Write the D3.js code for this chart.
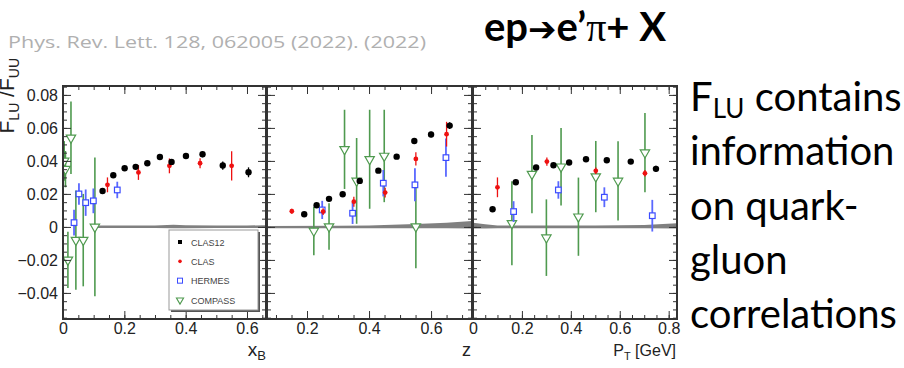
<!DOCTYPE html>
<html><head><meta charset="utf-8">
<script src="https://cdn.jsdelivr.net/npm/d3@7"></script>
<style>body{margin:0;background:#fff;} svg{display:block;}</style>
</head><body>
<svg id="c" width="904" height="368"></svg>
<script>
// ---------------- DATA ----------------
// Panel 1: vs x_B
const clas12X_x = [0.129,0.164,0.201,0.237,0.275,0.316,0.354,0.401,0.455,0.521,0.605];
const clas12X_y = [0.0218,0.0313,0.0356,0.0364,0.0386,0.0424,0.0394,0.0430,0.0440,0.0372,0.0331];
const clas12X_e = [0.0015,0.0012,0.0012,0.0012,0.0012,0.0013,0.0015,0.0015,0.0018,0.0025,0.0030];
const clasX_x = [0.145,0.246,0.347,0.447,0.550];
const clasX_y = [0.0255,0.0330,0.0370,0.0386,0.0370];
const clasX_e = [0.0045,0.0045,0.0045,0.0030,0.0088];
const hermesX_x = [0.036,0.052,0.074,0.099,0.177];
const hermesX_y = [0.0026,0.0200,0.0147,0.0158,0.0224];
const hermesX_e = [0.0078,0.0065,0.0080,0.0075,0.0050];
const compassX_x = [0.004,0.008,0.016,0.026,0.042,0.066,0.104];
const compassX_y = [0.040,0.035,-0.020,0.054,-0.008,-0.008,0.000];
const compassX_e = [0.012,0.011,0.017,0.022,0.030,0.028,0.042];
const bandX_x = [0.10,0.20,0.30,0.36,0.40,0.50,0.60,0.662];
const bandX_lo = [-0.0007,-0.0007,-0.0007,-0.0008,-0.0008,-0.0007,-0.0007,-0.0007];
const bandX_hi = [0.0008,0.0008,0.0009,0.0013,0.0010,0.0009,0.0009,0.0010];

// Panel 2: vs z
const clas12Z_x = [0.191,0.231,0.271,0.315,0.370,0.430,0.489,0.546,0.600,0.660];
const clas12Z_y = [0.0077,0.0131,0.0170,0.0198,0.0279,0.0341,0.0426,0.0521,0.0560,0.0614];
const clas12Z_e = [0.0010,0.0010,0.0010,0.0010,0.0012,0.0012,0.0013,0.0015,0.0017,0.0020];
const clasZ_x = [0.151,0.252,0.351,0.452,0.551,0.650];
const clasZ_y = [0.0095,0.0093,0.0153,0.0208,0.0412,0.0562];
const clasZ_e = [0.0015,0.0020,0.0030,0.0030,0.0040,0.0075];
const hermesZ_x = [0.249,0.347,0.446,0.548,0.648];
const hermesZ_y = [0.0103,0.0083,0.0265,0.0255,0.0420];
const hermesZ_e = [0.0055,0.0065,0.0080,0.0100,0.0116];
const compassZ_x = [0.222,0.271,0.321,0.360,0.402,0.449,0.551];
const compassZ_y = [-0.0024,0.0002,0.0470,0.0279,0.0410,0.0430,0.0002];
const compassZ_e = [0.0147,0.0141,0.0240,0.0260,0.0300,0.0280,0.0253];
const bandZ_x = [0.071,0.30,0.40,0.45,0.55,0.65,0.732];
const bandZ_lo = [-0.0008,-0.0008,-0.0008,-0.0008,-0.0008,-0.0008,-0.0009];
const bandZ_hi = [0.0006,0.0007,0.0009,0.0012,0.0018,0.0026,0.0036];

// Panel 3: vs P_T
const clas12P_x = [0.080,0.175,0.258,0.329,0.393,0.462,0.547,0.645,0.748];
const clas12P_y = [0.0107,0.0271,0.0360,0.0374,0.0390,0.0410,0.0404,0.0396,0.0352];
const clas12P_e = [0.0015,0.0012,0.0012,0.0012,0.0012,0.0013,0.0013,0.0014,0.0018];
const clasP_x = [0.100,0.302,0.502,0.703];
const clasP_y = [0.0240,0.0396,0.0340,0.0325];
const clasP_e = [0.0060,0.0025,0.0020,0.0020];
const hermesP_x = [0.166,0.349,0.537,0.733];
const hermesP_y = [0.0093,0.0224,0.0180,0.0068];
const hermesP_e = [0.0063,0.0053,0.0060,0.0096];
const compassP_x = [0.159,0.241,0.300,0.360,0.431,0.502,0.593,0.703];
const compassP_y = [0.0022,0.0320,-0.0065,0.0365,0.0062,0.0305,0.0279,0.0450];
const compassP_e = [0.0255,0.0237,0.0232,0.0235,0.0237,0.0216,0.0240,0.0240];
const bandP_x = [0.0,0.05,0.10,0.30,0.50,0.70,0.834];
const bandP_lo = [-0.0010,-0.0009,-0.0008,-0.0008,-0.0008,-0.0008,-0.0009];
const bandP_hi = [0.0026,0.0016,0.0008,0.0008,0.0009,0.0012,0.0022];

// axes / labels
const yTicks = [-0.04,-0.02,0,0.02,0.04,0.06,0.08];
const xTicks1 = [0,0.2,0.4,0.6];
const xTicks2 = [0.2,0.4,0.6];
const xTicks3 = [0,0.2,0.4,0.6,0.8];
const legendNames = ["CLAS12","CLAS","HERMES","COMPASS"];
const rightLines = ["contains","information","on quark-","gluon","correlations"];

// ---------------- DRAW ----------------
const svg = d3.select("#c");
const C = {clas12:"#000000", clas:"#ee1111", hermes:"#3b4cff", compass:"#4f9a4f", frame:"#333333", band:"#808080"};
const Y0 = 86, Y1 = 319;
const y = d3.scaleLinear().domain([-0.0558,0.0854]).range([Y1,Y0]);
const fmt = d => d===0 ? "0" : d3.format(".2f")(d).replace("-","\u2212");
const fmtX = d => d===0 ? "0" : d3.format(".1f")(d);
const tf = "Liberation Sans, Arial, sans-serif";

const panels = [
  {x0:63, x1:266, dom:[0,0.662], ticks:xTicks1, yLabels:true,
   series:[[compassX_x,compassX_y,compassX_e],[hermesX_x,hermesX_y,hermesX_e],[clasX_x,clasX_y,clasX_e],[clas12X_x,clas12X_y,clas12X_e]],
   band:[bandX_x,bandX_lo,bandX_hi]},
  {x0:267, x1:472, dom:[0.071,0.732], ticks:xTicks2, yLabels:false,
   series:[[compassZ_x,compassZ_y,compassZ_e],[hermesZ_x,hermesZ_y,hermesZ_e],[clasZ_x,clasZ_y,clasZ_e],[clas12Z_x,clas12Z_y,clas12Z_e]],
   band:[bandZ_x,bandZ_lo,bandZ_hi]},
  {x0:473, x1:677, dom:[0,0.834], ticks:xTicks3, yLabels:false,
   series:[[compassP_x,compassP_y,compassP_e],[hermesP_x,hermesP_y,hermesP_e],[clasP_x,clasP_y,clasP_e],[clas12P_x,clas12P_y,clas12P_e]],
   band:[bandP_x,bandP_lo,bandP_hi]}
];
const keys = ["compass","hermes","clas","clas12"];
const tri = d3.symbol().type(d3.symbolTriangle).size(38)();

panels.forEach(p => {
  const x = d3.scaleLinear().domain(p.dom).range([p.x0,p.x1]);
  const g = svg.append("g");
  const clipId = "clip"+p.x0;
  svg.append("clipPath").attr("id",clipId).append("rect")
    .attr("x",p.x0).attr("y",Y0).attr("width",p.x1-p.x0).attr("height",Y1-Y0);
  const inner = g.append("g").attr("clip-path",`url(#${clipId})`);
  const bd = p.band[0].map((v,i)=>({x:v,lo:p.band[1][i],hi:p.band[2][i]}));
  inner.append("path").datum(bd)
    .attr("d", d3.area().x(d=>x(d.x)).y0(d=>y(d.lo)).y1(d=>y(d.hi)))
    .attr("fill",C.band);
  p.series.forEach((s,si) => {
    const k = keys[si];
    const col = C[k];
    const data = s[0].map((v,i)=>({x:v,y:s[1][i],e:s[2][i]}));
    const sg = inner.append("g");
    sg.selectAll("line").data(data).join("line")
      .attr("x1",d=>x(d.x)).attr("x2",d=>x(d.x))
      .attr("y1",d=>y(d.y+d.e)).attr("y2",d=>y(d.y-d.e))
      .attr("stroke", k==="hermes" ? "#5a68ff" : col)
      .attr("stroke-width", k==="compass"?1.6:(k==="hermes"?1.8:1.3));
    if (k==="clas12") {
      sg.selectAll("circle").data(data).join("circle")
        .attr("cx",d=>x(d.x)).attr("cy",d=>y(d.y)).attr("r",3.2).attr("fill",col);
    } else if (k==="clas") {
      sg.selectAll("circle").data(data).join("circle")
        .attr("cx",d=>x(d.x)).attr("cy",d=>y(d.y)).attr("r",2.4).attr("fill",col);
    } else if (k==="hermes") {
      sg.selectAll("rect").data(data).join("rect")
        .attr("x",d=>x(d.x)-2.8).attr("y",d=>y(d.y)-2.8).attr("width",5.6).attr("height",5.6)
        .attr("fill","#fff").attr("stroke",col).attr("stroke-width",1.2);
    } else {
      sg.selectAll("path").data(data).join("path")
        .attr("d",tri).attr("transform",d=>`translate(${x(d.x)},${y(d.y)}) rotate(180)`)
        .attr("fill","#fff").attr("stroke",col).attr("stroke-width",1.2);
    }
  });
  const minor = d3.range(Math.ceil(p.dom[0]/0.05)*0.05, p.dom[1]+1e-9, 0.05);
  const yMinor = d3.range(-0.055, 0.0854, 0.005);
  const ax = (axis, tx, ty) => {
    const a = g.append("g").attr("transform",`translate(${tx},${ty})`).call(axis);
    a.select(".domain").remove();
    a.selectAll("line").attr("stroke",C.frame).attr("stroke-width",1);
    a.selectAll("text").attr("fill","#222").attr("font-family",tf).attr("font-size",16);
    return a;
  };
  ax(d3.axisBottom(x).tickValues(p.ticks).tickSize(-8).tickFormat(fmtX).tickPadding(4), 0, Y1);
  ax(d3.axisBottom(x).tickValues(minor).tickSize(-4).tickFormat(""), 0, Y1);
  ax(d3.axisTop(x).tickValues(p.ticks).tickSize(-8).tickFormat(""), 0, Y0);
  ax(d3.axisTop(x).tickValues(minor).tickSize(-4).tickFormat(""), 0, Y0);
  ax(d3.axisLeft(y).tickValues(yTicks).tickSize(-8).tickFormat(p.yLabels?fmt:"").tickPadding(5), p.x0, 0);
  ax(d3.axisLeft(y).tickValues(yMinor).tickSize(-4).tickFormat(""), p.x0, 0);
  ax(d3.axisRight(y).tickValues(yTicks).tickSize(-8).tickFormat(""), p.x1, 0);
  ax(d3.axisRight(y).tickValues(yMinor).tickSize(-4).tickFormat(""), p.x1, 0);
  g.append("rect").attr("x",p.x0).attr("y",Y0).attr("width",p.x1-p.x0).attr("height",Y1-Y0)
    .attr("fill","none").attr("stroke",C.frame).attr("stroke-width",2);
});

// legend
const lg = svg.append("g");
lg.append("rect").attr("x",171).attr("y",232).attr("width",89).attr("height",80).attr("fill","#555");
lg.append("rect").attr("x",169).attr("y",230).attr("width",89).attr("height",80).attr("fill","#fff").attr("stroke","#999").attr("stroke-width",1);
const ly = d3.scalePoint().domain(legendNames).range([242,300]);
legendNames.forEach((n,i)=>{
  const yy = ly(n);
  if (i===0) lg.append("rect").attr("x",178).attr("y",yy-2).attr("width",4).attr("height",4).attr("fill",C.clas12);
  if (i===1) lg.append("circle").attr("cx",180).attr("cy",yy).attr("r",1.8).attr("fill",C.clas);
  if (i===2) lg.append("rect").attr("x",177.5).attr("y",yy-2.5).attr("width",5).attr("height",5).attr("fill","#fff").attr("stroke",C.hermes).attr("stroke-width",1);
  if (i===3) lg.append("path").attr("d",d3.symbol().type(d3.symbolTriangle).size(22)()).attr("transform",`translate(180,${yy}) rotate(180)`).attr("fill","#fff").attr("stroke",C.compass).attr("stroke-width",1.1);
  lg.append("text").attr("x",191).attr("y",yy+3.5).attr("font-family",tf).attr("font-size",9).attr("fill","#444").text(n);
});

// axis titles
const xl = svg.append("text").attr("x",266).attr("y",356).attr("text-anchor","end").attr("font-family",tf).attr("font-size",19).attr("fill","#222");
xl.append("tspan").text("x");
xl.append("tspan").attr("font-size",13).attr("dy",4).text("B");
svg.append("text").attr("x",471).attr("y",356).attr("text-anchor","end").attr("font-family",tf).attr("font-size",18).attr("fill","#222").text("z");
const pl = svg.append("text").attr("x",676).attr("y",356).attr("text-anchor","end").attr("font-family",tf).attr("font-size",16).attr("fill","#222");
pl.append("tspan").text("P");
pl.append("tspan").attr("font-size",11).attr("dy",4).text("T");
pl.append("tspan").attr("dy",-4).text(" [GeV]");
const yl = svg.append("text").attr("transform","translate(14,58) rotate(-90)").attr("text-anchor","end").attr("font-family",tf).attr("font-size",21).attr("fill","#222");
yl.append("tspan").text("F");
yl.append("tspan").attr("font-size",14).attr("dy",5).text("LU");
yl.append("tspan").attr("dy",-5).text(" /F");
yl.append("tspan").attr("font-size",14).attr("dy",5).text("UU");

// header texts
svg.append("text").attr("x",8).attr("y",48).attr("font-family","Open Sans, sans-serif").attr("font-size",17).attr("fill","#b0b0b0")
  .attr("textLength",418).attr("lengthAdjust","spacingAndGlyphs").text("Phys. Rev. Lett. 128, 062005 (2022). (2022)");
const tfs = 40;
const tt = svg.append("text").attr("x",484).attr("y",41).attr("font-family","Lato, Open Sans, sans-serif").attr("font-weight","bold").attr("font-size",tfs).attr("fill","#000");
tt.append("tspan").text("ep");
tt.append("tspan").attr("font-family","DejaVu Sans").attr("font-size",tfs*0.85).text("\u2794");
tt.append("tspan").text("e\u2019");
tt.append("tspan").attr("font-family","Liberation Serif, serif").attr("font-weight","normal").text("\u03c0");
tt.append("tspan").text("+ X");

// right text
const rf = "Lato, Open Sans, sans-serif";
const rt = svg.append("g").attr("font-family",rf).attr("fill","#000");
const lineY = d3.scaleLinear().domain([0,4]).range([111,328]);
const probe = rt.append("text").attr("font-size",40).text("correlations");
const w = probe.node().getComputedTextLength();
probe.remove();
const fs = 40*207/w;
rt.attr("font-size",fs);
rightLines.forEach((t,i)=>{
  const te = rt.append("text").attr("x",690).attr("y",lineY(i));
  if (i===0) {
    te.append("tspan").text("F");
    te.append("tspan").attr("font-size",fs*0.65).attr("dy",7).text("LU");
    te.append("tspan").attr("dy",-7).text(" "+t);
  } else te.text(t);
});
</script>
</body></html>
